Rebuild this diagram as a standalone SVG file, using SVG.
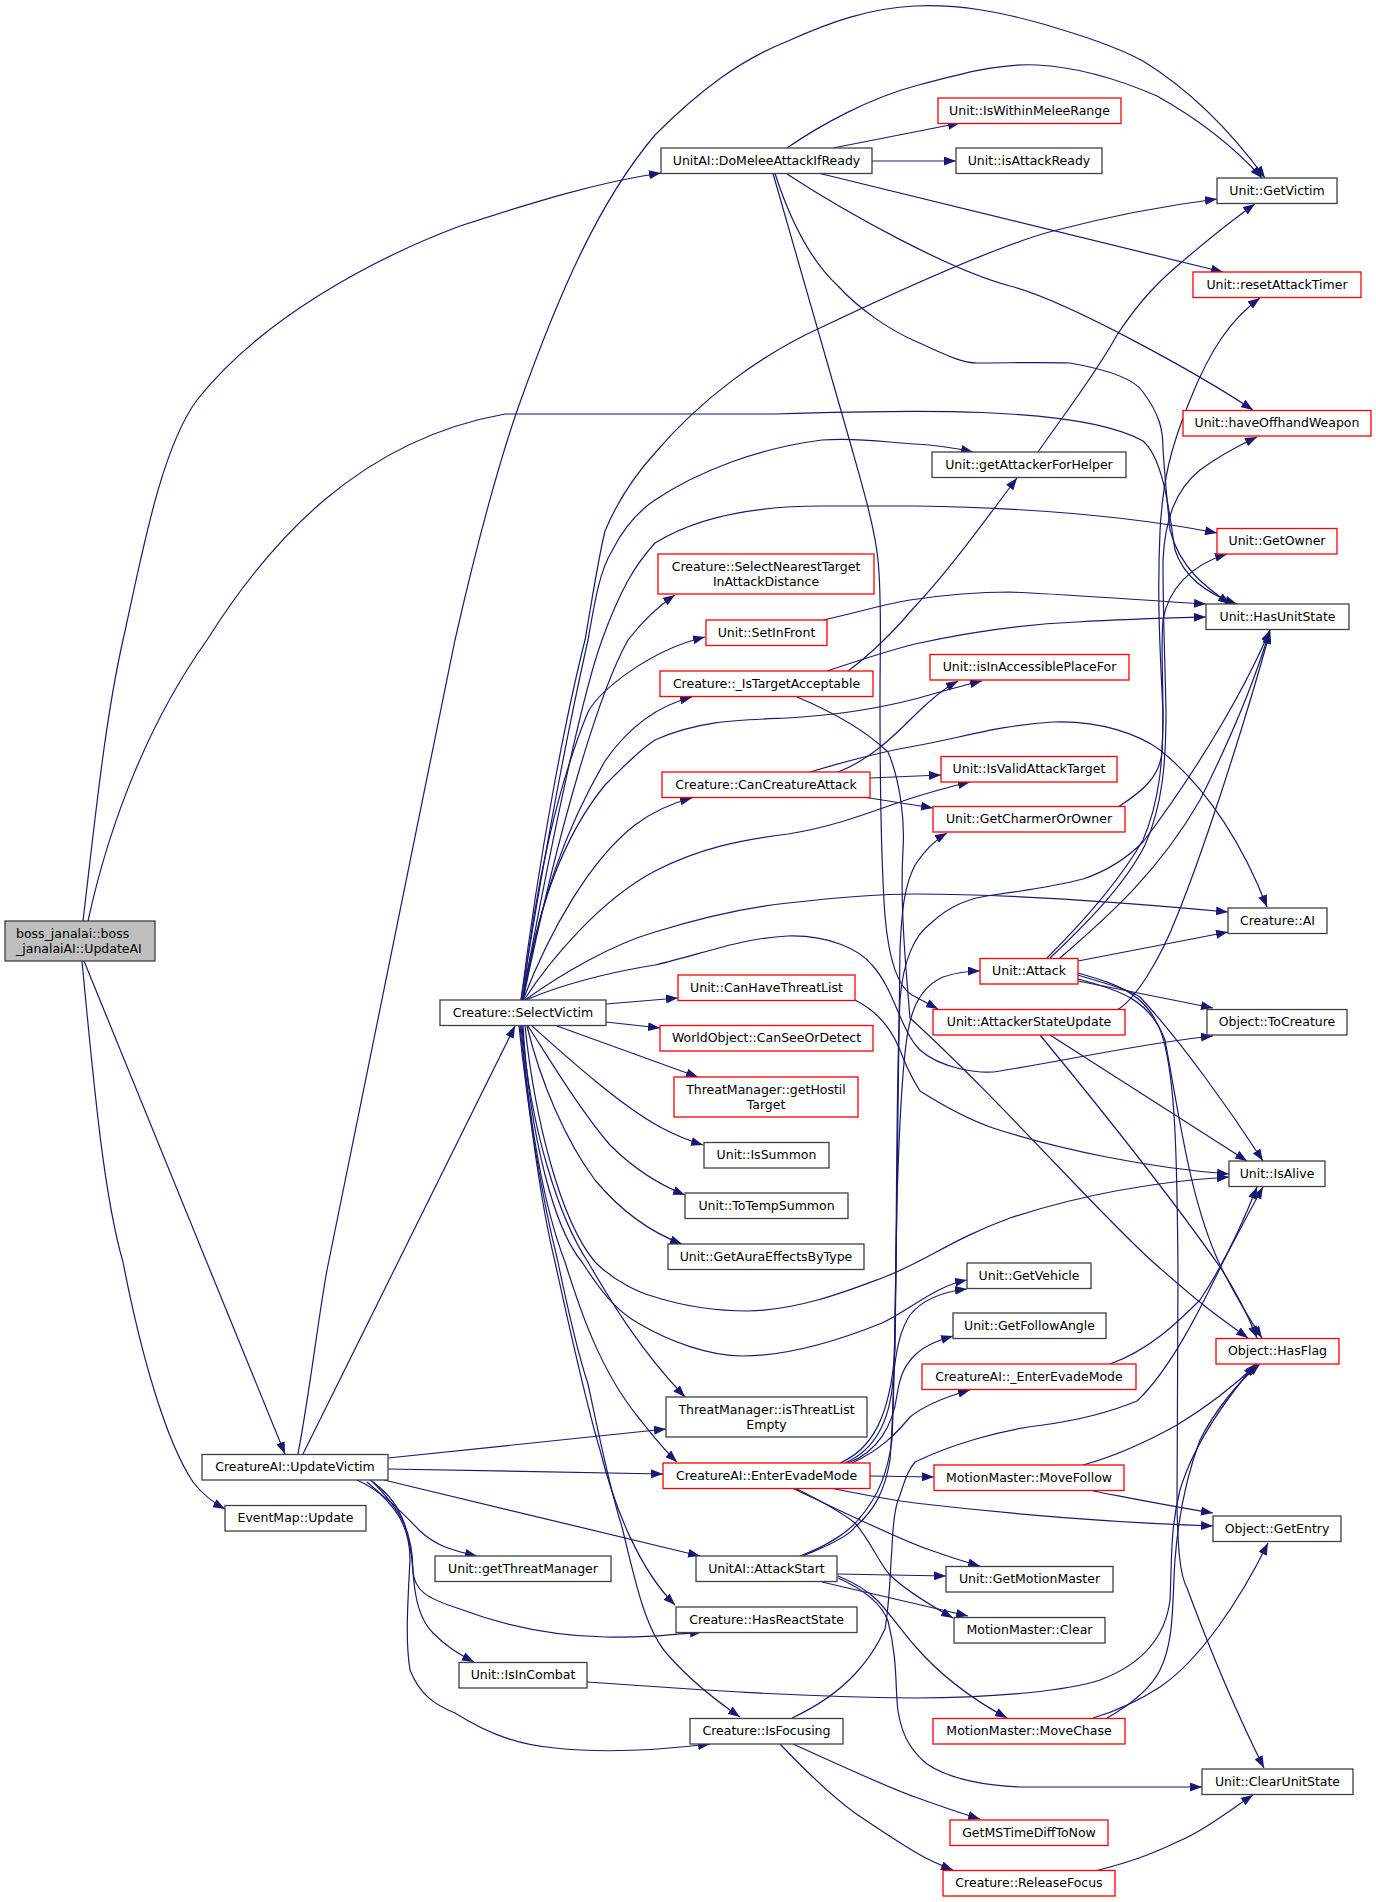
<svg xmlns="http://www.w3.org/2000/svg" width="1376" height="1902" viewBox="0 0 1376 1902">
<defs>
<marker id="a" markerWidth="12" markerHeight="9" refX="12" refY="4.5" orient="auto" markerUnits="userSpaceOnUse"><path d="M0,0 L12,4.5 L0,9 z" fill="#191970"/></marker>
<style>
rect{fill:#fff;stroke:#404040;stroke-width:1.3}
.r rect{stroke:#ff0000}
.s rect{fill:#bfbfbf}
text{font-family:"DejaVu Sans","Liberation Sans",sans-serif;font-size:12.5px;text-anchor:middle;fill:#000}
.s text{text-anchor:start}
#edges path{fill:none;stroke:#191970;stroke-width:1.2;marker-end:url(#a)}
</style>
</defs>
<rect x="0" y="0" width="1376" height="1902" style="fill:#fff;stroke:none"/>
<g id="edges">
<path d="M83,921 C95,820 105,720 123,640 S160,450 197,400 C260,320 370,260 460,226 C540,200 600,182 661,173"/>
<path d="M88,921 C110,820 150,720 207,640 C270,540 360,440 505,414 L775,414 C900,410 1080,405 1143,441 C1165,460 1170,520 1175,550 C1185,580 1210,595 1237,604"/>
<path d="M84,961 L285,1454"/>
<path d="M82,961 C95,1100 105,1200 123,1262 C140,1350 165,1440 193,1482 C203,1495 214,1503 225,1509"/>
<path d="M298,1454 C310,1390 318,1320 327,1270 L455,640 C480,530 500,460 518,408 C560,290 600,200 655,135 C700,90 740,60 788,41 C830,22 870,8 915,6 C960,4 1000,12 1043,24 C1080,35 1115,46 1143,61 C1190,90 1230,130 1265,178"/>
<path d="M303,1454 L515,1026"/>
<path d="M388,1458 L666,1429"/>
<path d="M388,1469 L663,1474"/>
<path d="M384,1480 L700,1556"/>
<path d="M357,1480 C380,1490 400,1510 420,1531 C435,1545 450,1550 477,1556"/>
<path d="M370,1480 C400,1500 410,1527 413,1572 C415,1590 425,1598 460,1609 C510,1628 560,1636 605,1637 C640,1638 670,1635 702,1632"/>
<path d="M373,1482 C400,1510 413,1530 413,1572 C415,1600 420,1620 433,1633 C445,1645 455,1652 474,1662"/>
<path d="M367,1482 C395,1505 410,1525 410,1560 C408,1600 405,1640 410,1670 C420,1695 435,1705 455,1713 C490,1735 520,1745 555,1748 C600,1753 660,1750 710,1744"/>
<path d="M521,1000 C540,850 565,720 585,640 C592,600 598,560 605,531 C618,500 635,475 655,453 C700,400 760,355 822,327 C900,290 1000,245 1053,231 C1110,216 1170,205 1217,199"/>
<path d="M521,1000 C545,850 570,720 588,640 C595,600 600,570 612,551 C625,525 640,510 655,500 C700,470 760,448 822,440 C860,437 890,443 915,444 C935,445 955,448 973,452"/>
<path d="M522,1000 C550,850 580,700 602,640 C620,590 635,565 655,543 C700,515 760,506 822,506 L915,506 C1050,508 1150,520 1217,533"/>
<path d="M523,1000 C560,820 600,690 628,640 C645,618 660,605 675,595"/>
<path d="M523,1000 C535,880 560,780 588,712 C600,690 650,650 705,637"/>
<path d="M523,1000 C540,900 565,830 605,761 C630,725 660,705 692,697"/>
<path d="M523,1000 C535,920 560,840 605,785 C625,765 640,750 655,740 C700,720 740,720 788,718 C840,715 880,708 915,699 C940,692 960,686 982,681"/>
<path d="M523,1000 C550,930 590,860 635,825 C655,810 672,803 692,798"/>
<path d="M524,1000 C550,960 600,900 655,871 C700,848 740,840 788,834 C840,826 880,808 915,797 C935,791 952,786 970,782"/>
<path d="M525,1000 C560,975 610,945 655,932 C700,918 740,908 788,903 C850,896 880,894 915,894 C1000,894 1100,900 1228,912"/>
<path d="M526,1000 C560,985 610,972 655,965 C700,955 740,938 788,936 C830,935 860,950 872,965 C895,990 900,1030 920,1050 C940,1068 980,1075 1000,1071 C1080,1058 1150,1042 1213,1036"/>
<path d="M606,1004 L678,998"/>
<path d="M606,1022 L660,1028"/>
<path d="M557,1026 L698,1077"/>
<path d="M532,1026 C570,1060 620,1105 660,1127 C675,1135 690,1141 703,1145"/>
<path d="M528,1026 C550,1060 580,1110 610,1145 C635,1170 660,1185 685,1195"/>
<path d="M527,1026 C540,1080 565,1140 595,1180 C620,1210 650,1232 682,1244"/>
<path d="M525,1026 C535,1120 560,1220 595,1262 C615,1282 640,1293 655,1297 C690,1308 720,1311 748,1311 C800,1310 850,1290 882,1278 C925,1262 950,1240 1010,1218 C1080,1195 1150,1182 1229,1177"/>
<path d="M523,1026 C530,1140 555,1230 582,1262 C600,1290 615,1310 638,1323 C670,1342 710,1356 742,1356 C790,1356 840,1340 882,1323 C910,1310 935,1286 967,1280"/>
<path d="M522,1026 C530,1130 560,1220 588,1262 C610,1300 640,1350 685,1397"/>
<path d="M521,1026 C530,1130 545,1210 565,1262 C580,1310 600,1370 638,1417 C650,1432 662,1448 677,1462"/>
<path d="M520,1026 C530,1120 540,1200 555,1262 C570,1330 585,1400 600,1450 C615,1510 640,1570 675,1605"/>
<path d="M519,1026 C530,1130 545,1210 558,1262 C570,1320 580,1360 588,1384 C600,1440 610,1490 622,1527 C635,1580 645,1630 668,1655 C690,1680 715,1700 740,1717"/>
<path d="M787,148 C820,125 870,98 915,86 C960,74 1000,63 1037,65 C1080,67 1120,80 1157,96 C1200,120 1235,148 1262,178"/>
<path d="M833,148 L960,123"/>
<path d="M872,161 L956,161"/>
<path d="M820,173.5 L1223,272"/>
<path d="M787,174 C850,215 950,270 1010,286 S1200,375 1253,410"/>
<path d="M775,173.5 C790,220 810,260 838,286 C860,310 890,330 915,341 C940,352 960,363 977,363 C1010,363 1040,362 1070,363 C1110,370 1135,380 1143,392 C1160,415 1163,430 1163,449 C1165,480 1168,510 1170,530 C1180,570 1210,590 1230,604"/>
<path d="M773,173.5 L852,449 C865,495 875,530 878,560 C882,600 880,640 880,700 C880,800 882,875 885,916 C888,950 895,985 912,995 L938,1009"/>
<path d="M1038,452 C1060,420 1095,375 1117,335 C1140,300 1160,280 1183,261 C1210,238 1235,218 1255,204"/>
<path d="M823,620 C860,612 880,605 910,600 C950,594 980,592 1010,592 C1080,595 1150,601 1206,604"/>
<path d="M848,671 C870,655 895,630 910,612 C950,570 985,520 1017,478"/>
<path d="M827,671 C860,660 890,650 915,644 C970,632 1030,624 1077,622 C1130,619 1170,618 1206,617"/>
<path d="M797,697 C840,715 870,735 888,752 C900,780 905,820 903,850 C900,900 905,960 910,1018 C1000,1100 1100,1215 1153,1262 S1220,1318 1248,1338"/>
<path d="M838,772 C870,760 895,735 915,715 C930,700 945,688 958,681"/>
<path d="M870,778 L941,775"/>
<path d="M863,797 L933,808"/>
<path d="M810,772 C850,760 880,752 915,746 C960,738 1000,725 1053,722 C1100,720 1140,735 1160,750 C1210,790 1245,850 1267,907"/>
<path d="M1118,807 C1145,790 1160,775 1162,752 C1165,700 1160,650 1163,620 C1168,590 1190,565 1227,554"/>
<path d="M1078,961 L1228,932"/>
<path d="M1078,981 L1213,1008"/>
<path d="M1078,975 C1110,985 1130,990 1140,997 C1180,1040 1230,1110 1263,1161"/>
<path d="M1078,979 C1120,990 1150,1000 1165,1040 C1180,1120 1190,1200 1220,1265 C1235,1295 1250,1320 1262,1338"/>
<path d="M1078,973 C1120,985 1150,995 1163,1038 C1175,1080 1177,1150 1178,1270 C1178,1400 1177,1480 1177,1507 C1178,1550 1180,1575 1187,1588 C1210,1650 1240,1720 1264,1768"/>
<path d="M1060,958 C1110,915 1160,870 1200,800 C1230,740 1255,680 1270,630"/>
<path d="M1047,958 C1080,925 1120,880 1143,840 C1160,800 1163,760 1163,712 C1160,650 1157,600 1160,531 C1163,480 1170,449 1190,400 C1210,350 1230,320 1260,298"/>
<path d="M1050,958 C1085,925 1125,885 1145,845 C1163,805 1166,760 1166,712 C1165,660 1163,620 1163,560 C1165,520 1175,490 1200,470 C1220,455 1240,445 1257,437"/>
<path d="M1117,1010 C1135,1000 1160,960 1177,916 C1200,860 1240,740 1270,632"/>
<path d="M1050,1035 L1247,1161"/>
<path d="M1040,1035 C1110,1120 1180,1210 1220,1267 C1235,1290 1248,1315 1257,1338"/>
<path d="M855,1000 C875,1010 890,1025 900,1050 C908,1072 915,1083 920,1091 C950,1110 970,1120 993,1128 C1060,1150 1150,1168 1229,1174"/>
<path d="M845,1463 C875,1450 890,1420 893,1380 C896,1350 900,1330 910,1315 C922,1300 940,1292 967,1289"/>
<path d="M848,1463 C878,1452 893,1425 897,1395 C900,1375 905,1365 915,1355 C925,1345 940,1340 953,1336"/>
<path d="M852,1463 C880,1450 895,1435 910,1417 C925,1405 945,1397 970,1390"/>
<path d="M840,1463 C870,1450 890,1420 895,1350 L900,950 C902,905 905,885 915,865 C925,850 935,840 947,833"/>
<path d="M870,1476 L934,1477"/>
<path d="M830,1488 C870,1496 890,1500 915,1503 C1000,1513 1100,1522 1213,1526"/>
<path d="M792,1488 C850,1515 900,1540 930,1550 C950,1557 965,1562 980,1566"/>
<path d="M795,1488 C825,1503 845,1515 855,1523 C870,1540 880,1565 890,1575 C905,1590 930,1605 953,1618"/>
<path d="M803,1556 C830,1545 850,1535 855,1527 C875,1510 885,1490 890,1460 C895,1400 895,1300 897,1200 C900,1100 905,1040 910,1022 C915,1000 925,985 943,977 C955,973 965,971 980,971"/>
<path d="M800,1556 C830,1545 850,1530 858,1520 C880,1495 888,1470 892,1440 C898,1300 895,1100 900,1000 C903,960 915,935 930,924 C950,905 970,898 993,895 C1030,890 1060,885 1083,879 C1110,870 1130,855 1143,842 C1190,780 1240,700 1270,630"/>
<path d="M837,1574 L946,1576"/>
<path d="M822,1582 L968,1616"/>
<path d="M838,1576 C860,1585 872,1595 878,1601 C895,1620 905,1635 915,1646 C940,1675 970,1698 1007,1718"/>
<path d="M838,1578 C865,1590 882,1605 888,1621 C898,1660 895,1690 898,1711 C902,1735 910,1750 927,1764 C950,1780 990,1786 1020,1787 L1202,1787"/>
<path d="M792,1718 C820,1705 840,1690 855,1674 C870,1658 880,1640 885,1629 C890,1600 890,1570 892,1548 C893,1520 895,1505 900,1495 C905,1480 908,1470 915,1462 C950,1445 1000,1430 1043,1425 C1080,1420 1115,1410 1137,1401 C1170,1370 1200,1310 1223,1262 C1237,1235 1250,1210 1263,1187"/>
<path d="M793,1744 C850,1770 900,1792 915,1797 C940,1806 960,1813 980,1819"/>
<path d="M780,1744 C800,1765 830,1795 855,1813 C880,1830 900,1843 915,1852 C925,1858 940,1865 953,1870"/>
<path d="M1095,1871 C1130,1862 1150,1855 1177,1842 C1205,1830 1230,1810 1253,1795"/>
<path d="M1110,1364 C1150,1350 1180,1320 1200,1300 C1220,1270 1240,1230 1257,1187"/>
<path d="M1083,1465 C1120,1455 1150,1440 1177,1425 C1210,1405 1235,1385 1257,1364"/>
<path d="M1093,1491 C1130,1498 1170,1506 1213,1513"/>
<path d="M1093,1718 C1120,1710 1140,1700 1160,1687 C1200,1660 1240,1600 1268,1543"/>
<path d="M1107,1718 C1130,1705 1150,1690 1160,1670 C1175,1640 1172,1600 1175,1560 C1178,1520 1185,1480 1200,1440 C1215,1410 1240,1380 1260,1364"/>
<path d="M587,1682 C700,1690 800,1697 915,1698 C1000,1698 1070,1690 1100,1680 C1140,1665 1165,1640 1170,1600 C1172,1560 1170,1530 1180,1490 C1195,1440 1230,1395 1255,1364"/>
</g>
<g id="n_start" class="s"><rect x="5" y="921" width="150" height="40"/><text x="16" y="937.5">boss_janalai::boss</text><text x="16" y="952.5">_janalaiAI::UpdateAI</text></g>
<g id="n_domelee"><rect x="661" y="148" width="211" height="25.5"/><text x="766.5" y="164.8">UnitAI::DoMeleeAttackIfReady</text></g>
<g id="n_withinmelee" class="r"><rect x="938" y="98" width="183" height="25.5"/><text x="1029.5" y="114.8">Unit::IsWithinMeleeRange</text></g>
<g id="n_attackready"><rect x="956" y="148" width="146" height="25.5"/><text x="1029" y="164.8">Unit::isAttackReady</text></g>
<g id="n_getvictim"><rect x="1217" y="178" width="120" height="25.5"/><text x="1277" y="194.8">Unit::GetVictim</text></g>
<g id="n_resettimer" class="r"><rect x="1193" y="272" width="168" height="25.5"/><text x="1277" y="288.8">Unit::resetAttackTimer</text></g>
<g id="n_offhand" class="r"><rect x="1183" y="410.5" width="188" height="25.5"/><text x="1277" y="427.3">Unit::haveOffhandWeapon</text></g>
<g id="n_attackerhelper"><rect x="932" y="452" width="194" height="25.5"/><text x="1029" y="468.8">Unit::getAttackerForHelper</text></g>
<g id="n_getowner" class="r"><rect x="1217" y="528.5" width="120" height="25.5"/><text x="1277" y="545.3">Unit::GetOwner</text></g>
<g id="n_nearest" class="r"><rect x="658" y="554" width="216" height="40"/><text x="766" y="570.5">Creature::SelectNearestTarget</text><text x="766" y="585.5">InAttackDistance</text></g>
<g id="n_hasunitstate"><rect x="1206" y="604" width="143" height="25.5"/><text x="1277.5" y="620.8">Unit::HasUnitState</text></g>
<g id="n_setinfront" class="r"><rect x="706" y="620" width="121" height="25.5"/><text x="766.5" y="636.8">Unit::SetInFront</text></g>
<g id="n_accessible" class="r"><rect x="930" y="654.5" width="199" height="25.5"/><text x="1029.5" y="671.3">Unit::isInAccessiblePlaceFor</text></g>
<g id="n_istargetacc" class="r"><rect x="660" y="671" width="213" height="25.5"/><text x="766.5" y="687.8">Creature::_IsTargetAcceptable</text></g>
<g id="n_validattack" class="r"><rect x="941" y="756.5" width="176" height="25.5"/><text x="1029" y="773.3">Unit::IsValidAttackTarget</text></g>
<g id="n_cancreatureattack" class="r"><rect x="662" y="772" width="208" height="25.5"/><text x="766" y="788.8">Creature::CanCreatureAttack</text></g>
<g id="n_charmer" class="r"><rect x="933" y="806.5" width="192" height="25.5"/><text x="1029" y="823.3">Unit::GetCharmerOrOwner</text></g>
<g id="n_ai"><rect x="1228" y="908" width="99" height="25.5"/><text x="1277.5" y="924.8">Creature::AI</text></g>
<g id="n_attack" class="r"><rect x="980" y="958.5" width="98" height="25.5"/><text x="1029" y="975.3">Unit::Attack</text></g>
<g id="n_canthreat" class="r"><rect x="678" y="975" width="177" height="25.5"/><text x="766.5" y="991.8">Unit::CanHaveThreatList</text></g>
<g id="n_selectvictim"><rect x="440" y="1000" width="166" height="25.5"/><text x="523" y="1016.8">Creature::SelectVictim</text></g>
<g id="n_attackerstate" class="r"><rect x="933" y="1009.5" width="192" height="25.5"/><text x="1029" y="1026.3">Unit::AttackerStateUpdate</text></g>
<g id="n_tocreature"><rect x="1207" y="1009.5" width="140" height="25.5"/><text x="1277" y="1026.3">Object::ToCreature</text></g>
<g id="n_canseeordetect" class="r"><rect x="660" y="1025.5" width="213" height="25.5"/><text x="766.5" y="1042.3">WorldObject::CanSeeOrDetect</text></g>
<g id="n_hostil" class="r"><rect x="674" y="1077" width="184" height="40"/><text x="766" y="1093.5">ThreatManager::getHostil</text><text x="766" y="1108.5">Target</text></g>
<g id="n_issummon"><rect x="704" y="1142.5" width="125" height="25.5"/><text x="766.5" y="1159.3">Unit::IsSummon</text></g>
<g id="n_isalive"><rect x="1229" y="1161" width="96" height="25.5"/><text x="1277" y="1177.8">Unit::IsAlive</text></g>
<g id="n_totemp"><rect x="685" y="1193" width="163" height="25.5"/><text x="766.5" y="1209.8">Unit::ToTempSummon</text></g>
<g id="n_aura"><rect x="668" y="1244" width="196" height="25.5"/><text x="766" y="1260.8">Unit::GetAuraEffectsByType</text></g>
<g id="n_vehicle"><rect x="967" y="1263" width="124" height="25.5"/><text x="1029" y="1279.8">Unit::GetVehicle</text></g>
<g id="n_followangle"><rect x="953" y="1313" width="153" height="25.5"/><text x="1029.5" y="1329.8">Unit::GetFollowAngle</text></g>
<g id="n_hasflag" class="r"><rect x="1216" y="1338.5" width="123" height="25.5"/><text x="1277.5" y="1355.3">Object::HasFlag</text></g>
<g id="n_enterevade_" class="r"><rect x="922" y="1364" width="214" height="25.5"/><text x="1029" y="1380.8">CreatureAI::_EnterEvadeMode</text></g>
<g id="n_threatempty"><rect x="666" y="1397" width="201" height="40"/><text x="766.5" y="1413.5">ThreatManager::isThreatList</text><text x="766.5" y="1428.5">Empty</text></g>
<g id="n_updatevictim"><rect x="202" y="1454.5" width="186" height="25.5"/><text x="295" y="1471.3">CreatureAI::UpdateVictim</text></g>
<g id="n_enterevade" class="r"><rect x="663" y="1463" width="207" height="25.5"/><text x="766.5" y="1479.8">CreatureAI::EnterEvadeMode</text></g>
<g id="n_movefollow" class="r"><rect x="934" y="1465" width="190" height="25.5"/><text x="1029" y="1481.8">MotionMaster::MoveFollow</text></g>
<g id="n_eventmap"><rect x="225" y="1505.5" width="141" height="25.5"/><text x="295.5" y="1522.3">EventMap::Update</text></g>
<g id="n_getentry"><rect x="1213" y="1516" width="128" height="25.5"/><text x="1277" y="1532.8">Object::GetEntry</text></g>
<g id="n_getthreatmgr"><rect x="435" y="1556" width="176" height="25.5"/><text x="523" y="1572.8">Unit::getThreatManager</text></g>
<g id="n_attackstart"><rect x="696" y="1556" width="141" height="25.5"/><text x="766.5" y="1572.8">UnitAI::AttackStart</text></g>
<g id="n_motionmaster"><rect x="946" y="1566.5" width="167" height="25.5"/><text x="1029.5" y="1583.3">Unit::GetMotionMaster</text></g>
<g id="n_reactstate"><rect x="676" y="1607" width="181" height="25.5"/><text x="766.5" y="1623.8">Creature::HasReactState</text></g>
<g id="n_clear"><rect x="954" y="1617.5" width="151" height="25.5"/><text x="1029.5" y="1634.3">MotionMaster::Clear</text></g>
<g id="n_incombat"><rect x="459" y="1662.5" width="128" height="25.5"/><text x="523" y="1679.3">Unit::IsInCombat</text></g>
<g id="n_isfocusing"><rect x="690" y="1718.5" width="153" height="25.5"/><text x="766.5" y="1735.3">Creature::IsFocusing</text></g>
<g id="n_movechase" class="r"><rect x="933" y="1718.5" width="192" height="25.5"/><text x="1029" y="1735.3">MotionMaster::MoveChase</text></g>
<g id="n_clearunitstate"><rect x="1202" y="1769" width="151" height="25.5"/><text x="1277.5" y="1785.8">Unit::ClearUnitState</text></g>
<g id="n_msdiff" class="r"><rect x="950" y="1820" width="158" height="25.5"/><text x="1029" y="1836.8">GetMSTimeDiffToNow</text></g>
<g id="n_releasefocus" class="r"><rect x="943" y="1870.5" width="172" height="25.5"/><text x="1029" y="1887.3">Creature::ReleaseFocus</text></g>
</svg>
